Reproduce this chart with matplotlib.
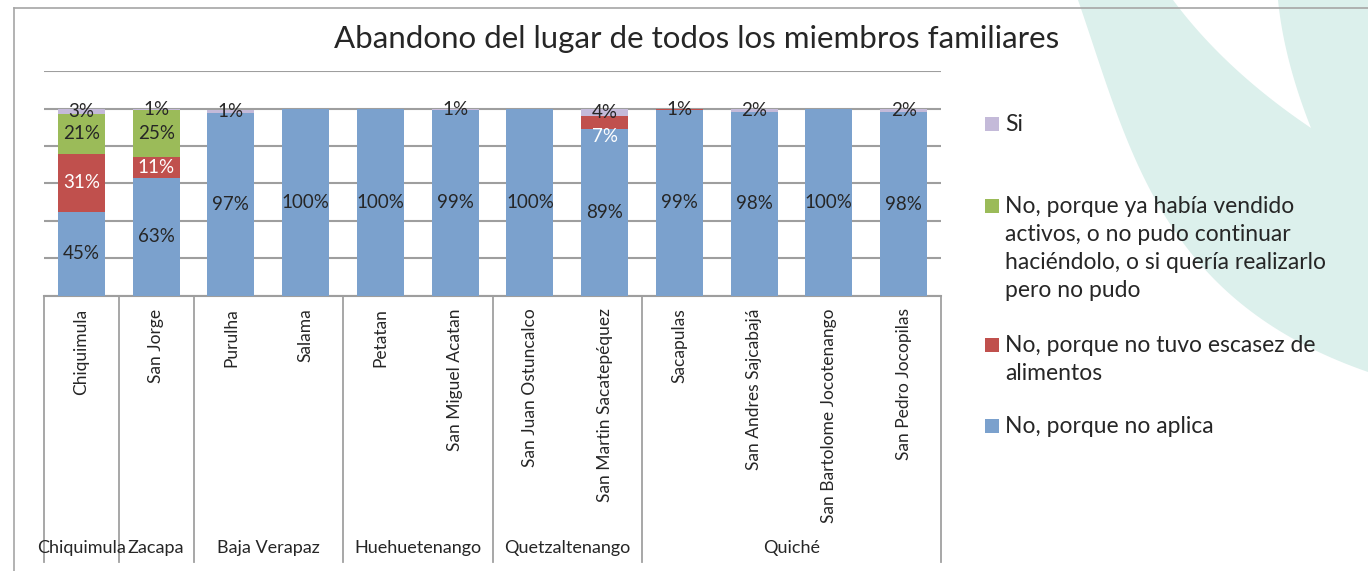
import numpy as np
import matplotlib
matplotlib.use("Agg")
import matplotlib.pyplot as plt
import matplotlib.transforms as mtransforms
from matplotlib.patches import Rectangle
from math import comb

plt.rcParams['font.family'] = ['Lato', 'DejaVu Sans']

# ---- data ----
title = "Abandono del lugar de todos los miembros familiares"
municipios = ["Chiquimula", "San Jorge", "Purulha", "Salama", "Petatan",
              "San Miguel Acatan", "San Juan Ostuncalco", "San Martin Sacatepéquez",
              "Sacapulas", "San Andres Sajcabajá", "San Bartolome Jocotenango",
              "San Pedro Jocopilas"]
departamentos = ["Chiquimula", "Zacapa", "Baja Verapaz", "Huehuetenango",
                 "Quetzaltenango", "Quiché"]
municipios_por_depto = [1, 1, 2, 2, 2, 4]

no_aplica = [45, 63, 97.4, 100, 100, 99.4, 100, 89.3, 99.2, 98.2, 100, 97.9]
no_escasez = [31, 11, 0.45, 0, 0, 0, 0, 6.6, 0.8, 0, 0, 0.4]
no_vendido = [21, 25, 0, 0, 0, 0, 0, 0, 0, 0, 0, 0]
si = [3, 1, 1.4, 0, 0, 0.6, 0, 4.1, 0, 1.8, 0, 1.7]

series = [no_aplica, no_escasez, no_vendido, si]
series_names = ["No, porque no aplica",
                "No, porque no tuvo escasez de\nalimentos",
                "No, porque ya había vendido\nactivos, o no pudo continuar\n"
                "haciéndolo, o si quería realizarlo\npero no pudo",
                "Si"]
colors = ["#7BA1CD", "#C0504D", "#9BBB59", "#C4BAD9"]
text_color = "#262626"


def bezier(pts, n=80):
    pts = np.asarray(pts, dtype=float)
    deg = len(pts) - 1
    t = np.linspace(0, 1, n)[:, None]
    out = np.zeros((n, 2))
    for i, p in enumerate(pts):
        out += comb(deg, i) * t ** i * (1 - t) ** (deg - i) * p
    return out


# ---- figure ----
W, H = 1368, 571
fig = plt.figure(figsize=(W / 100, H / 100), dpi=100)
fig.patch.set_facecolor("white")

# background decoration + frame (pixel coords, y down)
bg = fig.add_axes([0, 0, 1, 1], zorder=0)
bg.set_xlim(0, W)
bg.set_ylim(H, 0)
bg.axis("off")
leaf = np.vstack([
    [[1078, 0]],
    bezier([(1173, 0), (1225, 70), (1311, 128)]),
    bezier([(1311, 128), (1284, 60), (1278, 0)]),
    [[1368, 0], [1368, 372]],
    bezier([(1368, 372), (1160, 300), (1130, 150), (1078, 0)]),
])
bg.fill(leaf[:, 0], leaf[:, 1], color="#DCF0EC", lw=0)
bg.plot([14, W], [8, 8], color="#A6A6A6", lw=1.2)
bg.plot([14, 14], [8, H], color="#A6A6A6", lw=1.2)

ax = fig.add_axes([44 / W, 1 - 296 / H, 897 / W, 225 / H], zorder=1)
ax.patch.set_alpha(0)

x = np.arange(len(municipios))
bottom = np.zeros(len(municipios))
for k, vals in enumerate(series):
    vals = np.array(vals, dtype=float)
    ax.bar(x, vals, width=0.63, bottom=bottom, color=colors[k], zorder=3)
    for i, v in enumerate(vals):
        if v < 0.5:
            continue
        y = bottom[i] + v / 2
        if k == 1 and 2 <= v < 8:
            y = bottom[i] - 4.5
        col = "white" if (k == 1 and v >= 2) else text_color
        ax.text(x[i], y, f"{v:.0f}%", ha="center", va="center",
                fontsize=13.5, color=col, zorder=4)
    bottom += vals

ax.set_xlim(-0.5, len(municipios) - 0.5)
ax.set_ylim(0, 120)
ax.set_yticks(np.arange(0, 121, 20))
ax.set_yticklabels([])
ax.tick_params(axis="y", length=0)
ax.grid(axis="y", color="#9E9E9E", lw=1.5, zorder=0)
ax.set_axisbelow(True)
for s in ["left", "right", "top"]:
    ax.spines[s].set_visible(False)
ax.spines["bottom"].set_color("#9E9E9E")
ax.spines["bottom"].set_linewidth(1.5)

ax.set_xticks(x)
ax.set_xticklabels(municipios, rotation=90, fontsize=12.5, color=text_color)
ax.tick_params(axis="x", length=0, pad=9)

# department groups under the axis
trans = mtransforms.blended_transform_factory(ax.transData, ax.transAxes)
edges = np.concatenate([[0], np.cumsum(municipios_por_depto)]) - 0.5
for e in edges:
    ax.plot([e, e], [0, -1.182], transform=trans, color="#A0A0A0", lw=1.3,
            clip_on=False)
for name, a, b in zip(departamentos, edges[:-1], edges[1:]):
    ax.text((a + b) / 2, -1.12, name, transform=trans, ha="center",
            va="center", fontsize=13, color=text_color)

fig.text(697 / W, 1 - 48 / H, title, ha="center", va="baseline",
         fontsize=22.5, color=text_color)

# legend (top to bottom: Si, vendido, escasez, no aplica)
legend_order = [3, 2, 1, 0]
legend_y = [124, 206, 345, 426]
for k, yc in zip(legend_order, legend_y):
    bg.add_patch(Rectangle((985, yc - 7), 14, 14, facecolor=colors[k],
                           edgecolor="none"))
    for j, line in enumerate(series_names[k].split("\n")):
        bg.text(1005, yc + 7 + 28 * j, line, ha="left", va="baseline",
                fontsize=16.5, color=text_color)

fig.savefig("out.png", dpi=100)
